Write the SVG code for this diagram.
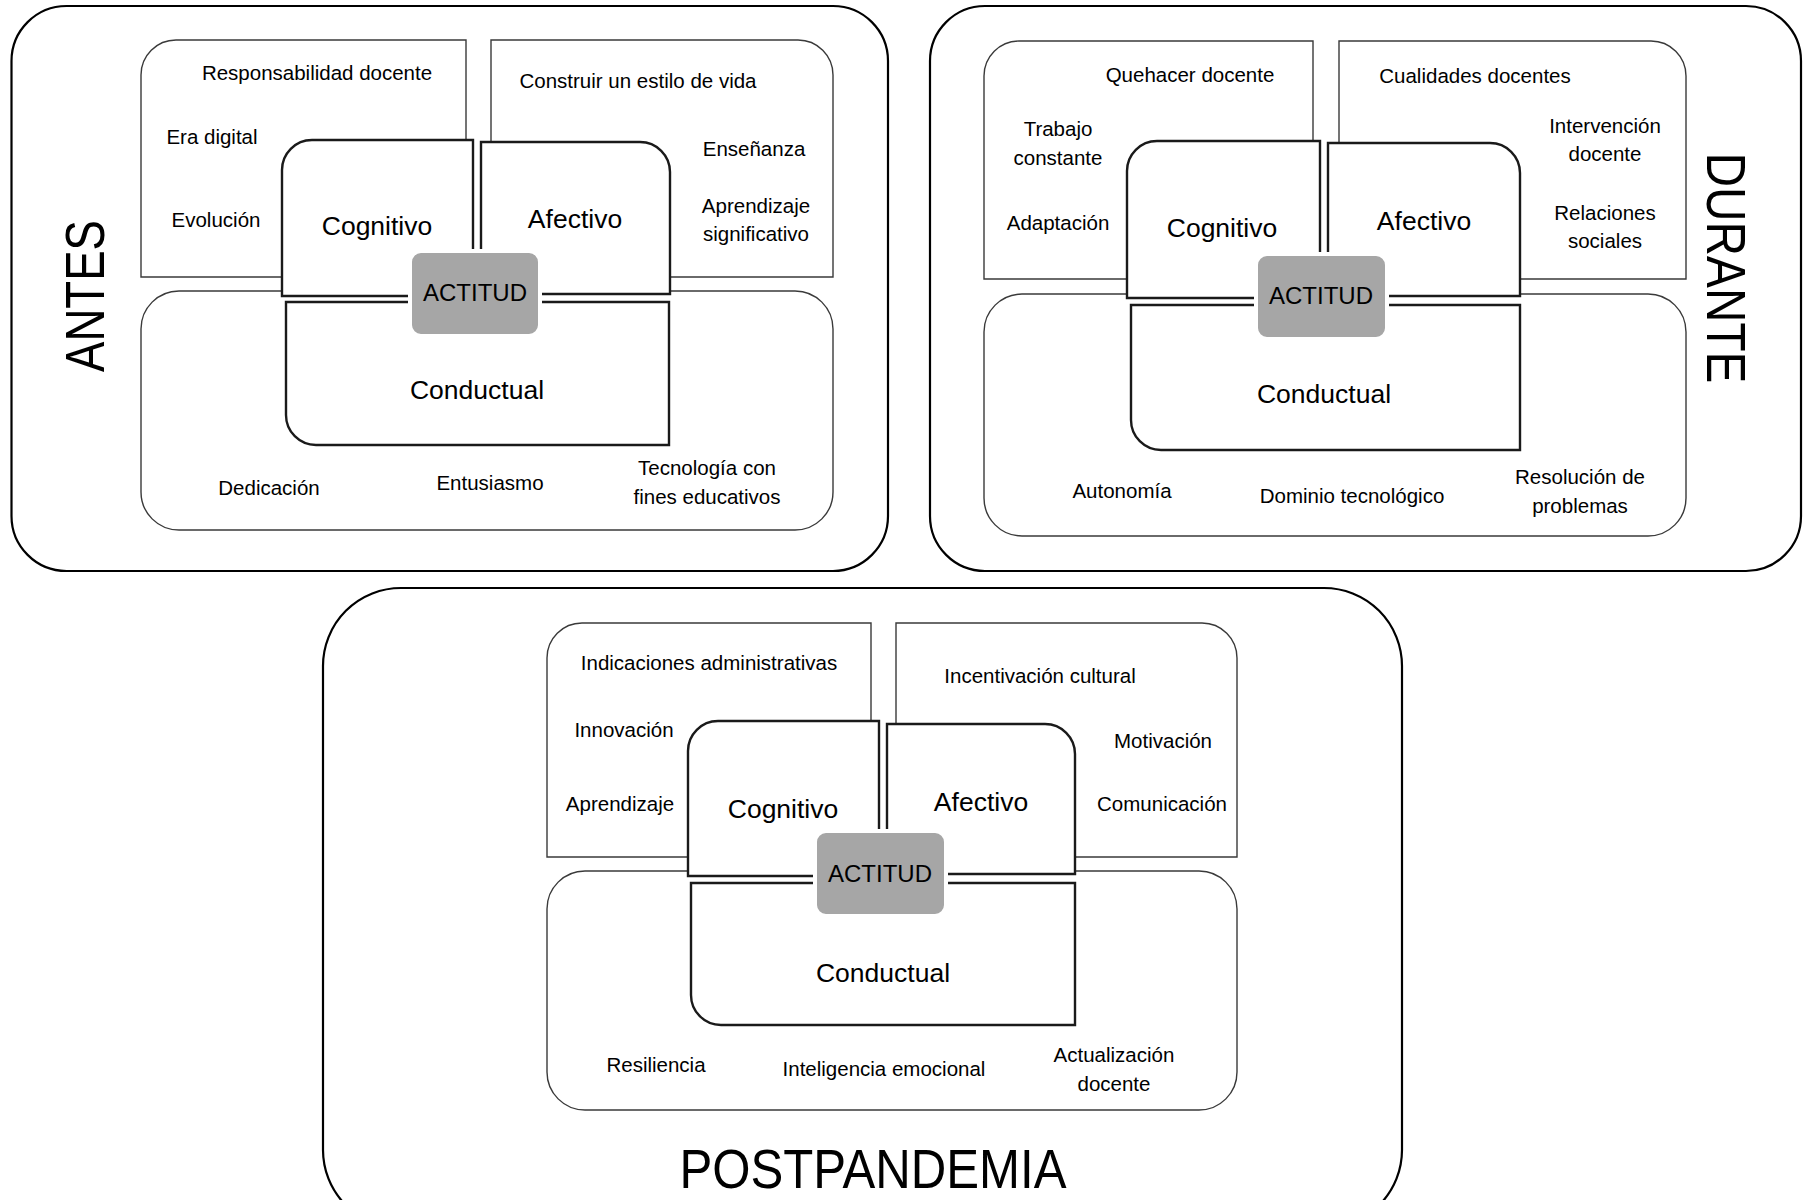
<svg xmlns="http://www.w3.org/2000/svg" width="1807" height="1200" viewBox="0 0 1807 1200">
<style>
.panel{fill:none;stroke:#000;stroke-width:2.2}
.big{fill:#fff;stroke:#3a3a3a;stroke-width:1.4}
.dim{fill:#fff;stroke:#1a1a1a;stroke-width:2.4}
.act{fill:#a6a6a6;stroke:#fff;stroke-width:4}
text{font-family:"Liberation Sans",Arial,sans-serif;fill:#000;text-anchor:middle}
.lb{font-size:20.5px}
.dl{font-size:26.5px}
.al{font-size:24px}
.tt{font-size:56px}
</style>
<rect width="1807" height="1200" fill="#fff"/>

<!-- ANTES -->
<g id="antes">
  <rect class="panel" x="11.5" y="6" width="876.5" height="565" rx="55"/>
  <text class="tt" transform="translate(104,296) rotate(-90)" textLength="152" lengthAdjust="spacingAndGlyphs">ANTES</text>
  <g id="antes-cog-area"><path class="big" d="M141 277 V75 A35 35 0 0 1 176 40 H466 V277 Z"/></g>
  <g id="antes-afe-area"><path class="big" d="M491 40 H798 A35 35 0 0 1 833 75 V277 H491 Z"/></g>
  <g id="antes-con-area"><rect class="big" x="141" y="291" width="692" height="239" rx="38"/></g>
  <g id="antes-cognitivo"><path class="dim" d="M282 296 V170 A30 30 0 0 1 312 140 H473 V296 Z"/><text class="dl" x="377" y="235">Cognitivo</text></g>
  <g id="antes-afectivo"><path class="dim" d="M481 142 H640 A30 30 0 0 1 670 172 V294 H481 Z"/><text class="dl" x="575" y="228">Afectivo</text></g>
  <g id="antes-conductual"><path class="dim" d="M286 302 H669 V445 H316 A30 30 0 0 1 286 415 Z"/><text class="dl" x="477" y="399">Conductual</text></g>
  <g id="antes-actitud"><rect class="act" x="410" y="251" width="130" height="85" rx="11"/><text class="al" x="475" y="301">ACTITUD</text></g>
  <g id="antes-labels">
    <text class="lb" x="317" y="80">Responsabilidad docente</text>
    <text class="lb" x="212" y="144">Era digital</text>
    <text class="lb" x="216" y="227">Evolución</text>
    <text class="lb" x="638" y="88">Construir un estilo de vida</text>
    <text class="lb" x="754" y="156">Enseñanza</text>
    <text class="lb" x="756" y="213">Aprendizaje</text>
    <text class="lb" x="756" y="241">significativo</text>
    <text class="lb" x="269" y="495">Dedicación</text>
    <text class="lb" x="490" y="490">Entusiasmo</text>
    <text class="lb" x="707" y="475">Tecnología con</text>
    <text class="lb" x="707" y="504">fines educativos</text>
  </g>
</g>

<!-- DURANTE -->
<g id="durante">
  <rect class="panel" x="930" y="6" width="871" height="565" rx="55"/>
  <text class="tt" transform="translate(1707,268) rotate(90)" textLength="231" lengthAdjust="spacingAndGlyphs">DURANTE</text>
  <g id="durante-cog-area"><path class="big" d="M984 279 V76 A35 35 0 0 1 1019 41 H1313 V279 Z"/></g>
  <g id="durante-afe-area"><path class="big" d="M1339 41 H1651 A35 35 0 0 1 1686 76 V279 H1339 Z"/></g>
  <g id="durante-con-area"><rect class="big" x="984" y="294" width="702" height="242" rx="38"/></g>
  <g id="durante-cognitivo"><path class="dim" d="M1127 298 V171 A30 30 0 0 1 1157 141 H1320 V298 Z"/><text class="dl" x="1222" y="237">Cognitivo</text></g>
  <g id="durante-afectivo"><path class="dim" d="M1328 143 H1490 A30 30 0 0 1 1520 173 V296 H1328 Z"/><text class="dl" x="1424" y="230">Afectivo</text></g>
  <g id="durante-conductual"><path class="dim" d="M1131 305 H1520 V450 H1161 A30 30 0 0 1 1131 420 Z"/><text class="dl" x="1324" y="403">Conductual</text></g>
  <g id="durante-actitud"><rect class="act" x="1256" y="254" width="131" height="85" rx="11"/><text class="al" x="1321" y="304">ACTITUD</text></g>
  <g id="durante-labels">
    <text class="lb" x="1190" y="82">Quehacer docente</text>
    <text class="lb" x="1058" y="136">Trabajo</text>
    <text class="lb" x="1058" y="165">constante</text>
    <text class="lb" x="1058" y="230">Adaptación</text>
    <text class="lb" x="1475" y="83">Cualidades docentes</text>
    <text class="lb" x="1605" y="133">Intervención</text>
    <text class="lb" x="1605" y="161">docente</text>
    <text class="lb" x="1605" y="220">Relaciones</text>
    <text class="lb" x="1605" y="248">sociales</text>
    <text class="lb" x="1122" y="498">Autonomía</text>
    <text class="lb" x="1352" y="503">Dominio tecnológico</text>
    <text class="lb" x="1580" y="484">Resolución de</text>
    <text class="lb" x="1580" y="513">problemas</text>
  </g>
</g>

<!-- POSTPANDEMIA -->
<g id="postpandemia">
  <rect class="panel" x="323" y="588" width="1079" height="640" rx="78"/>
  <text class="tt" x="873" y="1188" textLength="387" lengthAdjust="spacingAndGlyphs">POSTPANDEMIA</text>
  <g id="post-cog-area"><path class="big" d="M547 857 V658 A35 35 0 0 1 582 623 H871 V857 Z"/></g>
  <g id="post-afe-area"><path class="big" d="M896 623 H1202 A35 35 0 0 1 1237 658 V857 H896 Z"/></g>
  <g id="post-con-area"><rect class="big" x="547" y="871" width="690" height="239" rx="38"/></g>
  <g id="post-cognitivo"><path class="dim" d="M688 876 V751 A30 30 0 0 1 718 721 H879 V876 Z"/><text class="dl" x="783" y="818">Cognitivo</text></g>
  <g id="post-afectivo"><path class="dim" d="M887 724 H1045 A30 30 0 0 1 1075 754 V874 H887 Z"/><text class="dl" x="981" y="811">Afectivo</text></g>
  <g id="post-conductual"><path class="dim" d="M691 883 H1075 V1025 H721 A30 30 0 0 1 691 995 Z"/><text class="dl" x="883" y="982">Conductual</text></g>
  <g id="post-actitud"><rect class="act" x="815" y="831" width="131" height="85" rx="11"/><text class="al" x="880" y="882">ACTITUD</text></g>
  <g id="post-labels">
    <text class="lb" x="709" y="670">Indicaciones administrativas</text>
    <text class="lb" x="624" y="737">Innovación</text>
    <text class="lb" x="620" y="811">Aprendizaje</text>
    <text class="lb" x="1040" y="683">Incentivación cultural</text>
    <text class="lb" x="1163" y="748">Motivación</text>
    <text class="lb" x="1162" y="811">Comunicación</text>
    <text class="lb" x="656" y="1072">Resiliencia</text>
    <text class="lb" x="884" y="1076">Inteligencia emocional</text>
    <text class="lb" x="1114" y="1062">Actualización</text>
    <text class="lb" x="1114" y="1091">docente</text>
  </g>
</g>
<g id="connectors"/>
</svg>
